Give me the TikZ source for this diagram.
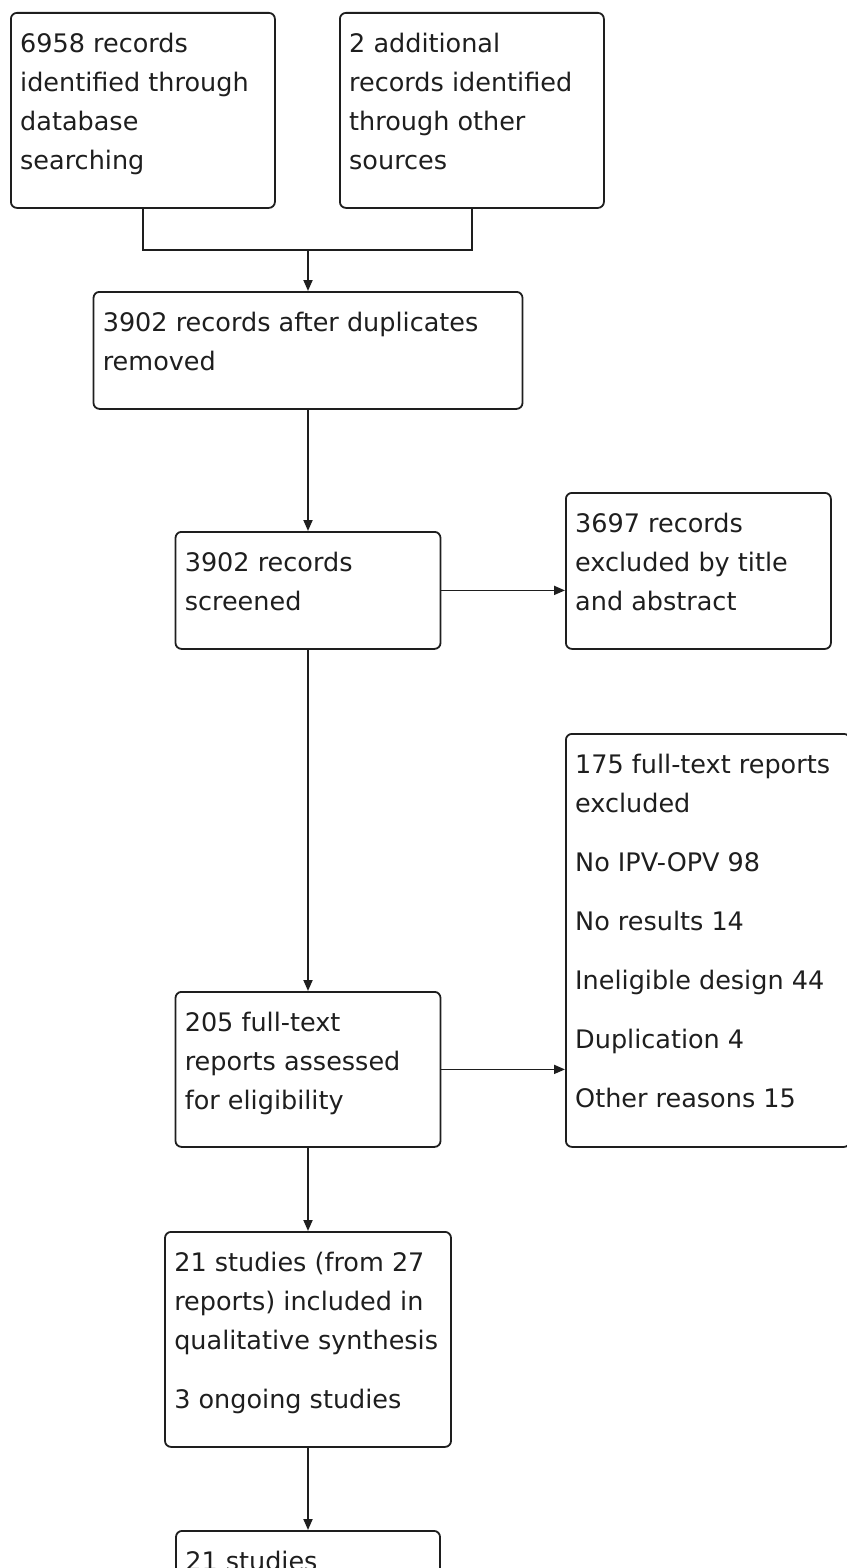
\documentclass[tikz,border=0pt]{standalone}
\usepackage{fontspec}
\setmainfont{DejaVu Sans}
\usetikzlibrary{arrows.meta,calc}
\definecolor{ink}{HTML}{1E1E1E}
% fixed-height strut so the first baseline sits at a known depth
\newcommand{\firstline}{\rule{0pt}{20pt}}
\begin{document}
\begin{tikzpicture}[x=1pt,y=-1pt,
  flowbox/.style={draw=ink, line width=1.8pt, rounded corners=6pt, inner sep=0pt},
  boxtext/.style={anchor=north west, inner sep=0pt, align=left,
    font=\fontsize{25.5}{39}\selectfont, text=ink},
  link/.style={draw=ink, line width=1.8pt},
  arr/.style={link, -{Triangle[length=11pt,width=9pt]}}]
\useasboundingbox (0,0) rectangle (846,1568);

% identification
\node[flowbox, anchor=north west, minimum width=264pt, minimum height=195pt] (db) at (10,12) {};
\node[boxtext] (dbt) at ($(db.north west)+(10,20)$) {\firstline 6958 records\\identified through\\database\\searching};
\node[flowbox, anchor=north west, minimum width=264pt, minimum height=195pt] (other) at (339,12) {};
\node[boxtext] (othert) at ($(other.north west)+(10,20)$) {\firstline 2 additional\\records identified\\through other\\sources};

% duplicates removed
\node[flowbox, anchor=north, minimum width=429pt, minimum height=117pt] (dup) at (308,291) {};
\node[boxtext] (dupt) at ($(dup.north west)+(10,20)$) {\firstline 3902 records after duplicates\\removed};

% screening
\node[flowbox, anchor=north, minimum width=265pt, minimum height=117pt] (scr) at (308,531) {};
\node[boxtext] (scrt) at ($(scr.north west)+(10,20)$) {\firstline 3902 records\\screened};
\node[flowbox, anchor=north west, minimum width=265pt, minimum height=156pt] (exc) at (565,492) {};
\node[boxtext] (exct) at ($(exc.north west)+(10,20)$) {\firstline 3697 records\\excluded by title\\and abstract};

% eligibility
\node[flowbox, anchor=north, minimum width=265pt, minimum height=155pt] (full) at (308,991) {};
\node[boxtext] (fullt) at ($(full.north west)+(10,20)$) {\firstline 205 full-text\\reports assessed\\for eligibility};
\node[flowbox, anchor=north west, minimum width=284pt, minimum height=413pt] (fexc) at (565,733) {};
\node[boxtext] (fexct) at ($(fexc.north west)+(10,20)$) {\firstline 175 full-text reports\\excluded\\[20pt]No IPV-OPV 98\\[20pt]No results 14\\[20pt]Ineligible design 44\\[20pt]Duplication 4\\[20pt]Other reasons 15};

% included
\node[flowbox, anchor=north, minimum width=286pt, minimum height=215pt] (qual) at (308,1231) {};
\node[boxtext] (qualt) at ($(qual.north west)+(10,20)$) {\firstline 21 studies (from 27\\reports) included in\\qualitative synthesis\\[20pt]3 ongoing studies};
\node[flowbox, anchor=north, minimum width=264pt, minimum height=160pt] (quant) at (308,1530) {};
\node[boxtext] (quantt) at ($(quant.north west)+(10,20)$) {\firstline 21 studies};

% connectors
\coordinate (join) at (308,250);
\draw[link] (db.south) |- (join) -| (other.south);
\draw[arr] (join) -- (dup.north);
\draw[arr] (dup.south) -- (scr.north);
\draw[arr] (scr.east) -- (scr.east -| exc.west);
\draw[arr] (scr.south) -- (full.north);
\draw[arr] (full.east) -- (full.east -| fexc.west);
\draw[arr] (full.south) -- (qual.north);
\draw[arr] (qual.south) -- (quant.north);
\end{tikzpicture}
\end{document}
